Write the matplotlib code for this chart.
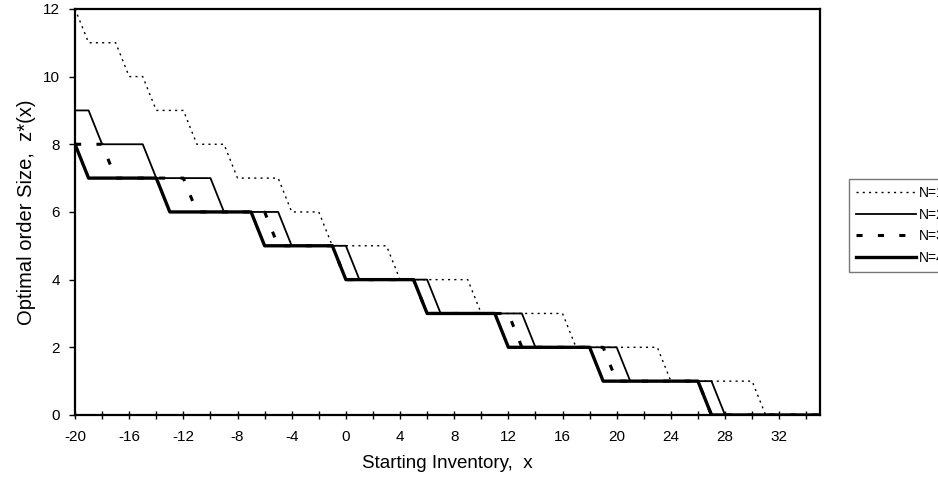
import numpy as np
import matplotlib
matplotlib.use("Agg")
import matplotlib.pyplot as plt
from matplotlib.ticker import MultipleLocator

plt.rcParams['font.family'] = ['Liberation Sans', 'DejaVu Sans']
plt.rcParams['axes.unicode_minus'] = False

# starting inventory x (integer grid)
x = list(range(-20, 36))

# optimal order size z*(x), one value per x
n1 = [12, 11, 11, 11, 10, 10, 9, 9, 9, 8, 8, 8, 7, 7, 7, 7, 6, 6, 6,
      5, 5, 5, 5, 5, 4, 4, 4, 4, 4, 4, 3, 3, 3, 3, 3, 3, 3,
      2, 2, 2, 2, 2, 2, 2, 1, 1, 1, 1, 1, 1, 1, 0, 0, 0, 0, 0]
n2 = [9, 9, 8, 8, 8, 8, 7, 7, 7, 7, 7, 6, 6, 6, 6, 6, 5, 5, 5, 5,
      5, 4, 4, 4, 4, 4, 4, 3, 3, 3, 3, 3, 3, 3, 2, 2, 2, 2, 2, 2, 2,
      1, 1, 1, 1, 1, 1, 1, 0, 0, 0, 0, 0, 0, 0, 0]
n3 = [8, 8, 8, 7, 7, 7, 7, 7, 7, 6, 6, 6, 6, 6, 6, 5, 5, 5, 5, 5,
      4, 4, 4, 4, 4, 4, 3, 3, 3, 3, 3, 3, 3, 2, 2, 2, 2, 2, 2, 2,
      1, 1, 1, 1, 1, 1, 1, 0, 0, 0, 0, 0, 0, 0, 0, 0]
n4 = [8, 7, 7, 7, 7, 7, 7, 6, 6, 6, 6, 6, 6, 6, 5, 5, 5, 5, 5, 5,
      4, 4, 4, 4, 4, 4, 3, 3, 3, 3, 3, 3, 2, 2, 2, 2, 2, 2, 2,
      1, 1, 1, 1, 1, 1, 1, 1, 0, 0, 0, 0, 0, 0, 0, 0, 0]

labels = ["N=1", "N=2", "N=3", "N=4"]

fig = plt.figure(figsize=(9.38, 4.84), dpi=100)
ax = fig.add_axes([0.080, 0.1426, 0.794, 0.839])

ax.plot(x, n1, color='black', lw=1.0, linestyle=(0, (1.5, 3)), label=labels[0])
ax.plot(x, n2, color='black', lw=1.3, linestyle='-', label=labels[1])
ax.plot(x, n3, color='black', lw=2.2, linestyle=(0, (2, 5)), label=labels[2])
ax.plot(x, n4, color='black', lw=2.4, linestyle='-', label=labels[3])

ax.set_xlim(-20, 35)
ax.set_ylim(0, 12)
ax.xaxis.set_major_locator(MultipleLocator(4))
ax.xaxis.set_minor_locator(MultipleLocator(2))
ax.yaxis.set_major_locator(MultipleLocator(2))
ax.tick_params(axis='x', which='both', direction='inout', length=6, width=1, pad=8,
               labelsize=11)
ax.tick_params(axis='y', direction='out', length=4, width=1, pad=7, labelsize=11)
for sp in ax.spines.values():
    sp.set_linewidth(1.6)

ax.set_xlabel("Starting Inventory,  x", fontsize=13.5, labelpad=8)
ax.set_ylabel("Optimal order Size,  z*(x)", fontsize=14.5, labelpad=5)

# legend runs past the right edge, as in the source scan
leg = fig.legend(loc='upper left', bbox_to_anchor=(849 / 938, 1 - 179 / 484),
                 frameon=True, fancybox=False, fontsize=10, handlelength=4.3,
                 handletextpad=0.2, labelspacing=0.55, borderpad=0.5,
                 borderaxespad=0)
leg.get_frame().set_edgecolor('#555555')
leg.get_frame().set_linewidth(1.0)

fig.savefig("out.png", dpi=100)
